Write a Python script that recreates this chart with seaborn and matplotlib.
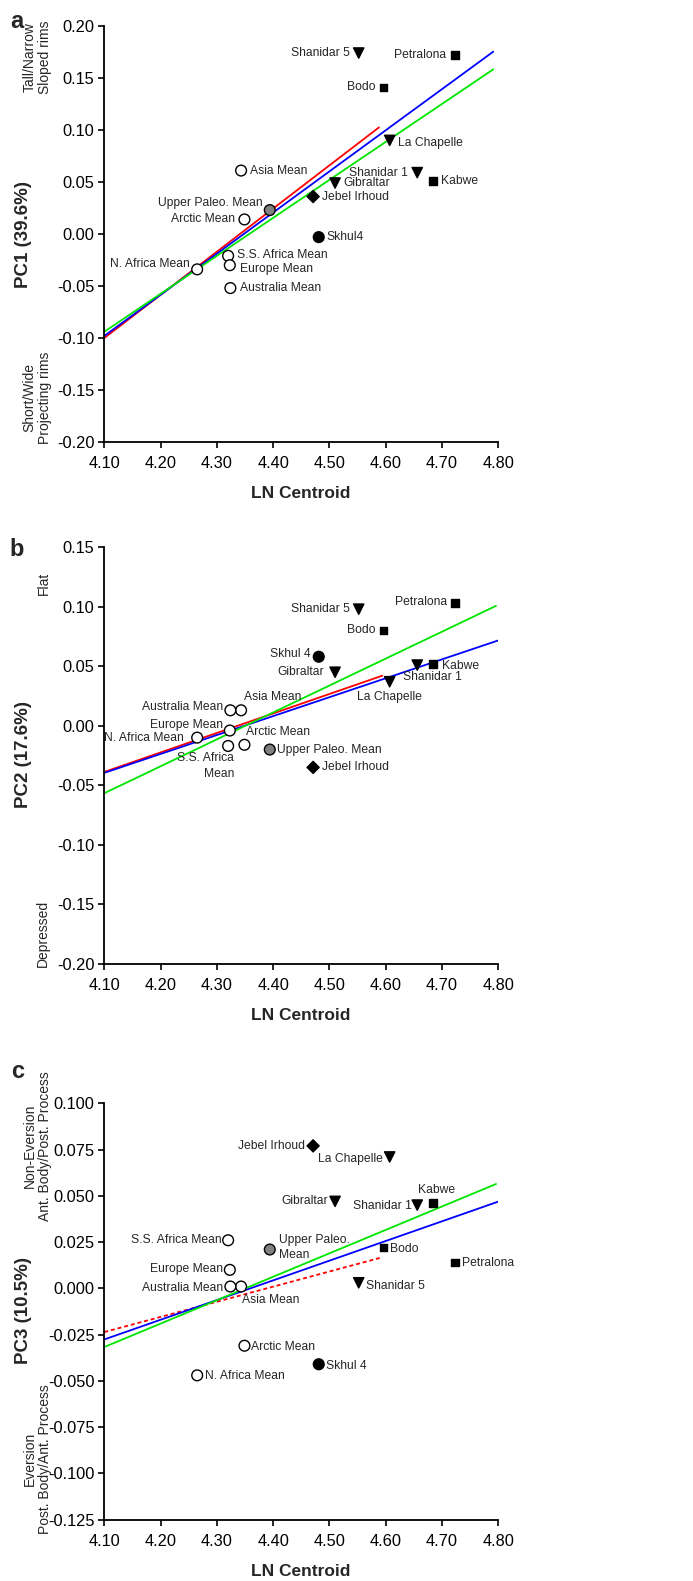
import numpy as np
import pandas as pd
import matplotlib
matplotlib.use("Agg")
import matplotlib.pyplot as plt
import seaborn as sns
from matplotlib.ticker import FormatStrFormatter, MultipleLocator

# ---------------- data ----------------
specimens = ["Petralona", "Bodo", "Kabwe", "Shanidar 5", "Shanidar 1", "La Chapelle",
             "Gibraltar", "Jebel Irhoud", "Skhul 4", "Upper Paleo. Mean", "Asia Mean",
             "Arctic Mean", "S.S. Africa Mean", "Europe Mean", "Australia Mean", "N. Africa Mean"]
groups = ["Middle Pleistocene", "Middle Pleistocene", "Middle Pleistocene",
          "Neanderthal", "Neanderthal", "Neanderthal", "Neanderthal",
          "Jebel Irhoud", "Skhul", "Upper Paleolithic",
          "Recent", "Recent", "Recent", "Recent", "Recent", "Recent"]
ln_centroid = [4.723, 4.596, 4.684, 4.552, 4.656, 4.607, 4.510, 4.471, 4.481, 4.394,
               4.343, 4.349, 4.320, 4.323, 4.324, 4.265]
pc1 = [0.172, 0.141, 0.051, 0.174, 0.059, 0.090, 0.049, 0.036, -0.003, 0.023,
       0.061, 0.014, -0.021, -0.030, -0.052, -0.034]
pc2 = [0.103, 0.080, 0.052, 0.098, 0.051, 0.037, 0.045, -0.035, 0.058, -0.020,
       0.013, -0.016, -0.017, -0.004, 0.013, -0.010]
pc3 = [0.014, 0.022, 0.046, 0.003, 0.045, 0.071, 0.047, 0.077, -0.041, 0.021,
       0.001, -0.031, 0.026, 0.010, 0.001, -0.047]

# regression lines (red, blue, green): start/end x and y
fit_names = ["red", "blue", "green"]
fit_x_start = [4.10, 4.10, 4.10]
fit_a_x_end = [4.588, 4.791, 4.791]
fit_a_y_start = [-0.100, -0.098, -0.094]
fit_a_y_end = [0.1025, 0.1753, 0.1583]
fit_b_x_end = [4.594, 4.803, 4.796]
fit_b_y_start = [-0.0388, -0.0396, -0.0567]
fit_b_y_end = [0.0421, 0.0722, 0.1008]
fit_c_x_end = [4.594, 4.803, 4.796]
fit_c_y_start = [-0.0236, -0.0276, -0.0317]
fit_c_y_end = [0.0168, 0.0472, 0.0564]

# ---------------- styles ----------------
sns.set_style("ticks")
plt.rcParams["font.family"] = ["Liberation Sans", "DejaVu Sans"]
plt.rcParams["axes.unicode_minus"] = False

REG = ["Liberation Sans", "DejaVu Sans"]

markers = {"Middle Pleistocene": "s", "Neanderthal": "v", "Jebel Irhoud": "D",
           "Skhul": "o", "Upper Paleolithic": "o", "Recent": "o"}
palette = {"Middle Pleistocene": "black", "Neanderthal": "black", "Jebel Irhoud": "black",
           "Skhul": "black", "Upper Paleolithic": "#808080", "Recent": "white"}
sizes = {"Middle Pleistocene": 30, "Neanderthal": 55, "Jebel Irhoud": 38,
         "Skhul": 60, "Upper Paleolithic": 60, "Recent": 60}
line_colors = {"red": "#ff0000", "blue": "#0000ff", "green": "#00e600"}

# label placements: name -> (text, dx px, dy px, ha)
place_a = {
    "Petralona": ("Petralona", -9, 0, "right"),
    "Bodo": ("Bodo", -8, 0, "right"),
    "Kabwe": ("Kabwe", 8, 0, "left"),
    "Shanidar 5": ("Shanidar 5", -9, 0, "right"),
    "Shanidar 1": ("Shanidar 1", -9, 0, "right"),
    "La Chapelle": ("La Chapelle", 8, -3, "left"),
    "Gibraltar": ("Gibraltar", 8, 0, "left"),
    "Jebel Irhoud": ("Jebel Irhoud", 9, 0, "left"),
    "Skhul 4": ("Skhul4", 8, 0, "left"),
    "Upper Paleo. Mean": ("Upper Paleo. Mean", -7, 7, "right"),
    "Asia Mean": ("Asia Mean", 9, 0, "left"),
    "Arctic Mean": ("Arctic Mean", -9, 0, "right"),
    "S.S. Africa Mean": ("S.S. Africa Mean", 9, 1, "left"),
    "Europe Mean": ("Europe Mean", 10, -4, "left"),
    "Australia Mean": ("Australia Mean", 10, 0, "left"),
    "N. Africa Mean": ("N. Africa Mean", -7, 5, "right"),
}
place_b = {
    "Petralona": ("Petralona", -8, 1, "right"),
    "Bodo": ("Bodo", -8, 1, "right"),
    "Kabwe": ("Kabwe", 9, -2, "left"),
    "Shanidar 5": ("Shanidar 5", -9, 0, "right"),
    "Shanidar 1": ("Shanidar 1", -14, -12, "left"),
    "La Chapelle": ("La Chapelle", 0, -15, "center"),
    "Gibraltar": ("Gibraltar", -11, 0, "right"),
    "Jebel Irhoud": ("Jebel Irhoud", 9, 0, "left"),
    "Skhul 4": ("Skhul 4", -8, 3, "right"),
    "Upper Paleo. Mean": ("Upper Paleo. Mean", 7, 0, "left"),
    "Asia Mean": ("Asia Mean", 3, 13, "left"),
    "Arctic Mean": ("Arctic Mean", 2, 13, "left"),
    "S.S. Africa Mean": ("S.S. Africa\nMean", 6, -20, "right"),
    "Europe Mean": ("Europe Mean", -7, 6, "right"),
    "Australia Mean": ("Australia Mean", -7, 3, "right"),
    "N. Africa Mean": ("N. Africa Mean", -13, 0, "right"),
}
place_c = {
    "Petralona": ("Petralona", 7, -1, "left"),
    "Bodo": ("Bodo", 7, -1, "left"),
    "Kabwe": ("Kabwe", 4, 13, "center"),
    "Shanidar 5": ("Shanidar 5", 7, -3, "left"),
    "Shanidar 1": ("Shanidar 1", -5, -1, "right"),
    "La Chapelle": ("La Chapelle", -7, -2, "right"),
    "Gibraltar": ("Gibraltar", -7, 0, "right"),
    "Jebel Irhoud": ("Jebel Irhoud", -8, 0, "right"),
    "Skhul 4": ("Skhul 4", 7, -2, "left"),
    "Upper Paleo. Mean": ("Upper Paleo.\nMean", 9, 2, "left"),
    "Asia Mean": ("Asia Mean", 1, -13, "left"),
    "Arctic Mean": ("Arctic Mean", 7, -1, "left"),
    "S.S. Africa Mean": ("S.S. Africa Mean", -7, 0, "right"),
    "Europe Mean": ("Europe Mean", -7, 1, "right"),
    "Australia Mean": ("Australia Mean", -7, -1, "right"),
    "N. Africa Mean": ("N. Africa Mean", 8, -1, "left"),
}

W, H = 693, 1581
fig = plt.figure(figsize=(W / 100, H / 100), dpi=100)

def px_rect(x0, y0, x1, y1):
    return [x0 / W, 1 - y1 / H, (x1 - x0) / W, (y1 - y0) / H]

panels = [
    dict(rect=px_rect(104.3, 26, 498.3, 442), y=pc1, ylim=(-0.20, 0.20), step=0.05, fmt="%.2f",
         xe=fit_a_x_end, ys=fit_a_y_start, ye=fit_a_y_end, place=place_a, red_dash=False,
         letter=("a", 17, 21), ylab=("PC1 (39.6%)", 23, 234), xlab_y=493,
         side=[("Tall/Narrow\nSloped rims", 37, 57), ("Short/Wide\nProjecting rims", 37, 398)]),
    dict(rect=px_rect(104.3, 547.3, 498.3, 963.7), y=pc2, ylim=(-0.20, 0.15), step=0.05, fmt="%.2f",
         xe=fit_b_x_end, ys=fit_b_y_start, ye=fit_b_y_end, place=place_b, red_dash=False,
         letter=("b", 17, 550), ylab=("PC2 (17.6%)", 23, 755), xlab_y=1016,
         side=[("Flat", 44, 583), ("Depressed", 43, 933)]),
    dict(rect=px_rect(104.3, 1103.3, 498.3, 1519.7), y=pc3, ylim=(-0.125, 0.100), step=0.025, fmt="%.3f",
         xe=fit_c_x_end, ys=fit_c_y_start, ye=fit_c_y_end, place=place_c, red_dash=True,
         letter=("c", 18, 1072), ylab=("PC3 (10.5%)", 23, 1311), xlab_y=1572,
         side=[("Non-Eversion\nAnt. Body/Post. Process", 37, 1146),
               ("Eversion\nPost. Body/Ant. Process", 37, 1459)]),
]

for p in panels:
    ax = fig.add_axes(p["rect"])
    # regression lines
    for i, name in enumerate(fit_names):
        ldf = pd.DataFrame({"x": [fit_x_start[i], p["xe"][i]], "y": [p["ys"][i], p["ye"][i]]})
        ls = (0, (2.2, 1.6)) if (p["red_dash"] and name == "red") else "-"
        sns.lineplot(data=ldf, x="x", y="y", ax=ax, color=line_colors[name], linewidth=1.3,
                     estimator=None, sort=False, linestyle=ls, legend=False)
    df = pd.DataFrame({"name": specimens, "group": groups, "ln": ln_centroid, "pc": p["y"]})
    sns.scatterplot(data=df, x="ln", y="pc", hue="group", style="group", size="group",
                    markers=markers, palette=palette, sizes=sizes, edgecolor="black",
                    linewidth=1.0, legend=False, ax=ax, zorder=3)
    for _, r in df.iterrows():
        txt, dx, dy, ha = p["place"][r["name"]]
        ax.annotate(txt, (r["ln"], r["pc"]), xytext=(dx, dy), textcoords="offset pixels",
                    ha=ha, va="center", fontsize=8.7, family=REG,
                    multialignment=ha, linespacing=1.35)
    ax.set_xlim(4.10, 4.80)
    ax.set_ylim(*p["ylim"])
    ax.xaxis.set_major_locator(MultipleLocator(0.10))
    ax.yaxis.set_major_locator(MultipleLocator(p["step"]))
    ax.xaxis.set_major_formatter(FormatStrFormatter("%.2f"))
    ax.yaxis.set_major_formatter(FormatStrFormatter(p["fmt"]))
    ax.set_xlabel("")
    ax.set_ylabel("")
    sns.despine(ax=ax)
    for s in ["left", "bottom"]:
        ax.spines[s].set_linewidth(1.3)
        ax.spines[s].set_color("black")
    ax.tick_params(direction="out", length=4, width=1.2, colors="black", labelsize=11.8, pad=3)
    ax.tick_params(axis="x", pad=6)

    # texts in figure pixel coordinates
    L, lx, ly = p["letter"]
    fig.text(lx / W, 1 - ly / H, L, ha="center", va="center", fontsize=17, fontweight="bold", family=REG)
    t, tx, ty = p["ylab"]
    fig.text(tx / W, 1 - ty / H, t, ha="center", va="center", rotation=90, fontsize=13.5,
             fontweight="bold", family=REG)
    fig.text(301 / W, 1 - p["xlab_y"] / H, "LN Centroid", ha="center", va="center", fontsize=12.5,
             fontweight="bold", family=REG)
    for t, tx, ty in p["side"]:
        fig.text(tx / W, 1 - ty / H, t, ha="center", va="center", rotation=90, fontsize=10,
                 family=REG, multialignment="center", linespacing=1.1)

fig.savefig("out.png", dpi=100)
